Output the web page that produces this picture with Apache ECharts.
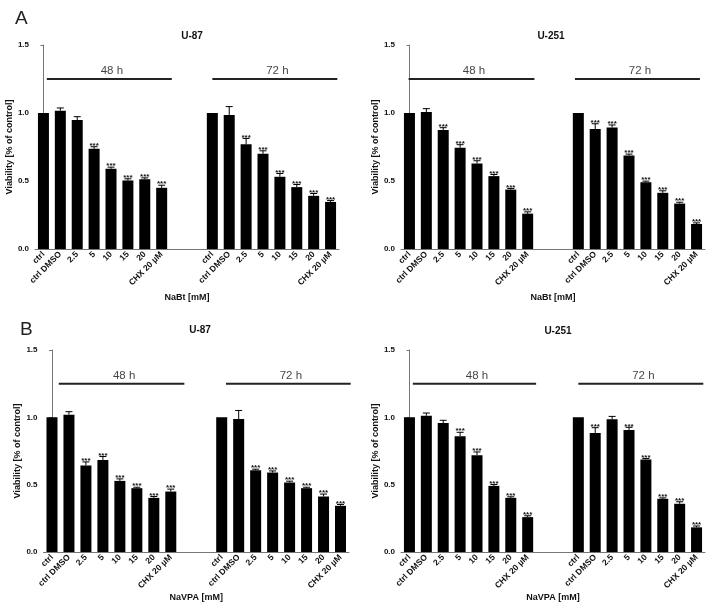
<!DOCTYPE html>
<html><head><meta charset="utf-8">
<script src="https://cdn.jsdelivr.net/npm/echarts@6/dist/echarts.min.js"></script>
<style>html,body{margin:0;padding:0;background:#fff}#c{width:712px;height:608px}</style>
</head><body><div id="c"></div>
<script>
// ---- data ----
const groupLabels = ['ctrl','ctrl DMSO','2.5','5','10','15','20','CHX 20 µM'];
const categories = [...groupLabels, '', '', ...groupLabels];
const yTicks = [0, 0.5, 1.0, 1.5];
const periodNames = ['48 h', '72 h'];

// Panel A, U-87 (NaBt)
const aU87_mean48 = [1.00, 1.017, 0.948, 0.737, 0.590, 0.504, 0.513, 0.450];
const aU87_sem48  = [0, 0.020, 0.025, 0.015, 0.012, 0.012, 0.010, 0.019];
const aU87_sig48  = [0, 0, 0, 1, 1, 1, 1, 1];
const aU87_mean72 = [1.00, 0.985, 0.771, 0.700, 0.531, 0.455, 0.391, 0.346];
const aU87_sem72  = [0, 0.062, 0.042, 0.022, 0.024, 0.019, 0.017, 0.010];
const aU87_sig72  = [0, 0, 1, 1, 1, 1, 1, 1];

// Panel A, U-251 (NaBt)
const aU251_mean48 = [1.00, 1.007, 0.875, 0.744, 0.629, 0.536, 0.437, 0.260];
const aU251_sem48  = [0, 0.025, 0.017, 0.023, 0.020, 0.012, 0.008, 0.013];
const aU251_sig48  = [0, 0, 1, 1, 1, 1, 1, 1];
const aU251_mean72 = [1.00, 0.882, 0.894, 0.688, 0.491, 0.413, 0.334, 0.184];
const aU251_sem72  = [0, 0.039, 0.018, 0.010, 0.008, 0.015, 0.010, 0.008];
const aU251_sig72  = [0, 1, 1, 1, 1, 1, 1, 1];

// Panel B, U-87 (NaVPA)
const bU87_mean48 = [1.00, 1.020, 0.642, 0.684, 0.528, 0.474, 0.402, 0.449];
const bU87_sem48  = [0, 0.022, 0.027, 0.025, 0.015, 0.007, 0.010, 0.018];
const bU87_sig48  = [0, 0, 1, 1, 1, 1, 1, 1];
const bU87_mean72 = [1.00, 0.988, 0.607, 0.590, 0.516, 0.474, 0.412, 0.343];
const bU87_sem72  = [0, 0.063, 0.008, 0.012, 0.010, 0.007, 0.018, 0.010];
const bU87_sig72  = [0, 0, 1, 1, 1, 1, 1, 1];

// Panel B, U-251 (NaVPA)
const bU251_mean48 = [1.00, 1.012, 0.958, 0.859, 0.719, 0.491, 0.402, 0.259];
const bU251_sem48  = [0, 0.020, 0.020, 0.030, 0.024, 0.010, 0.008, 0.010];
const bU251_sig48  = [0, 0, 0, 1, 1, 1, 1, 1];
const bU251_mean72 = [1.00, 0.884, 0.985, 0.906, 0.686, 0.395, 0.358, 0.183];
const bU251_sem72  = [0, 0.039, 0.022, 0.020, 0.008, 0.007, 0.015, 0.010];
const bU251_sig72  = [0, 1, 0, 1, 1, 1, 1, 1];

// ---- layout ----
const FONT = 'Arial, "Liberation Sans", Helvetica, sans-serif';
const panels = [
  {title:'U-87', xName:'NaBt [mM]', grid:{left:35, top:45, width:304, height:204}, titleX:187, titleY:26, nameGap:44,
   m48:aU87_mean48, s48:aU87_sem48, g48:aU87_sig48, m72:aU87_mean72, s72:aU87_sem72, g72:aU87_sig72,
   spans:[[0.2,7.6],[10.0,17.4]]},
  {title:'U-251', xName:'NaBt [mM]', grid:{left:401, top:45, width:304, height:204}, titleX:546, titleY:26, nameGap:44,
   m48:aU251_mean48, s48:aU251_sem48, g48:aU251_sig48, m72:aU251_mean72, s72:aU251_sem72, g72:aU251_sig72,
   spans:[[-0.05,7.4],[9.8,17.2]]},
  {title:'U-87', xName:'NaVPA [mM]', grid:{left:43.5, top:350, width:305.5, height:202}, titleX:195, titleY:320, nameGap:36,
   m48:bU87_mean48, s48:bU87_sem48, g48:bU87_sig48, m72:bU87_mean72, s72:bU87_sem72, g72:bU87_sig72,
   spans:[[0.4,7.8],[10.25,17.6]]},
  {title:'U-251', xName:'NaVPA [mM]', grid:{left:401, top:350, width:304, height:202}, titleX:553, titleY:321, nameGap:38,
   m48:bU251_mean48, s48:bU251_sem48, g48:bU251_sig48, m72:bU251_mean72, s72:bU251_sem72, g72:bU251_sig72,
   spans:[[0.2,7.5],[10.0,17.4]]}
];
const periodLineY = 1.25;
const periodTextY = 1.31;

const option = {
  animation:false,
  textStyle:{fontFamily:FONT},
  title:[
    {text:'A', left:10, top:4, textStyle:{fontSize:19, fontWeight:'normal', color:'#222', fontFamily:FONT}},
    {text:'B', left:15, top:315, textStyle:{fontSize:19, fontWeight:'normal', color:'#222', fontFamily:FONT}}
  ],
  grid:[], xAxis:[], yAxis:[], series:[]
};

panels.forEach((p, i) => {
  option.title.push({text:p.title, left:p.titleX, top:p.titleY, textAlign:'center',
    textStyle:{fontSize:10, fontWeight:'bold', color:'#111', fontFamily:FONT}});
  option.grid.push(Object.assign({containLabel:false}, p.grid));
  option.xAxis.push({
    type:'category', gridIndex:i, data:categories, boundaryGap:true,
    axisLine:{lineStyle:{color:'#777', width:1}}, axisTick:{show:false},
    axisLabel:{rotate:45, interval:0, fontSize:8.5, fontWeight:'bold', color:'#111', margin:4, fontFamily:FONT},
    name:p.xName, nameLocation:'middle', nameGap:p.nameGap,
    nameTextStyle:{fontSize:9, fontWeight:'bold', color:'#111', fontFamily:FONT}
  });
  option.xAxis.push({type:'value', gridIndex:i, min:-0.5, max:17.5, show:false});
  option.yAxis.push({
    type:'value', gridIndex:i, min:yTicks[0], max:yTicks[yTicks.length-1], interval:0.5,
    axisLine:{show:true, lineStyle:{color:'#777', width:1}},
    axisTick:{show:true, length:3, lineStyle:{color:'#777'}},
    splitLine:{show:false},
    axisLabel:{formatter:v => v.toFixed(1), fontSize:8, fontWeight:'bold', color:'#111', margin:6, fontFamily:FONT},
    name:'Viability [% of control]', nameLocation:'middle', nameGap:20,
    nameTextStyle:{fontSize:9, fontWeight:'bold', color:'#111', fontFamily:FONT}
  });
  const barData = [...p.m48, '-', '-', ...p.m72];
  option.series.push({
    type:'bar', xAxisIndex:2*i, yAxisIndex:i, data:barData, barWidth:11,
    itemStyle:{color:'#000'}, silent:true
  });
  const errData = [];
  p.m48.forEach((m, k) => errData.push([k, m, p.s48[k], p.g48[k]]));
  p.m72.forEach((m, k) => errData.push([k + 10, m, p.s72[k], p.g72[k]]));
  option.series.push({
    type:'custom', xAxisIndex:2*i, yAxisIndex:i, data:errData, silent:true, z:5,
    renderItem:(params, api) => {
      const x = api.value(0), m = api.value(1), e = api.value(2), s = api.value(3);
      const p0 = api.coord([x, m]);
      const p1 = api.coord([x, m + e]);
      const children = [];
      if (e > 0) {
        children.push({type:'line', shape:{x1:p0[0], y1:p0[1], x2:p1[0], y2:p1[1]}, style:{stroke:'#000', lineWidth:1}});
        children.push({type:'line', shape:{x1:p1[0]-3.5, y1:p1[1], x2:p1[0]+3.5, y2:p1[1]}, style:{stroke:'#000', lineWidth:1}});
      }
      if (s) {
        children.push({type:'text', style:{text:'***', x:p1[0], y:p1[1]-1, align:'center', verticalAlign:'middle',
          font:'bold 8px ' + FONT, fill:'#111'}});
      }
      return {type:'group', children};
    }
  });
  p.spans.forEach((sp, k) => {
    option.series.push({
      type:'line', xAxisIndex:2*i+1, yAxisIndex:i, data:[[sp[0], periodLineY], [sp[1], periodLineY]],
      showSymbol:false, symbol:'none', lineStyle:{color:'#222', width:2}, silent:true
    });
    option.series.push({
      type:'scatter', xAxisIndex:2*i+1, yAxisIndex:i, data:[[(sp[0]+sp[1])/2 + 0.15, periodTextY]],
      symbolSize:0, silent:true,
      label:{show:true, position:'inside', formatter:periodNames[k], fontSize:11.5, color:'#111', fontFamily:FONT}
    });
  });
});

const chart = echarts.init(document.getElementById('c'), null, {renderer:'canvas'});
chart.setOption(option);
</script>
</body></html>
